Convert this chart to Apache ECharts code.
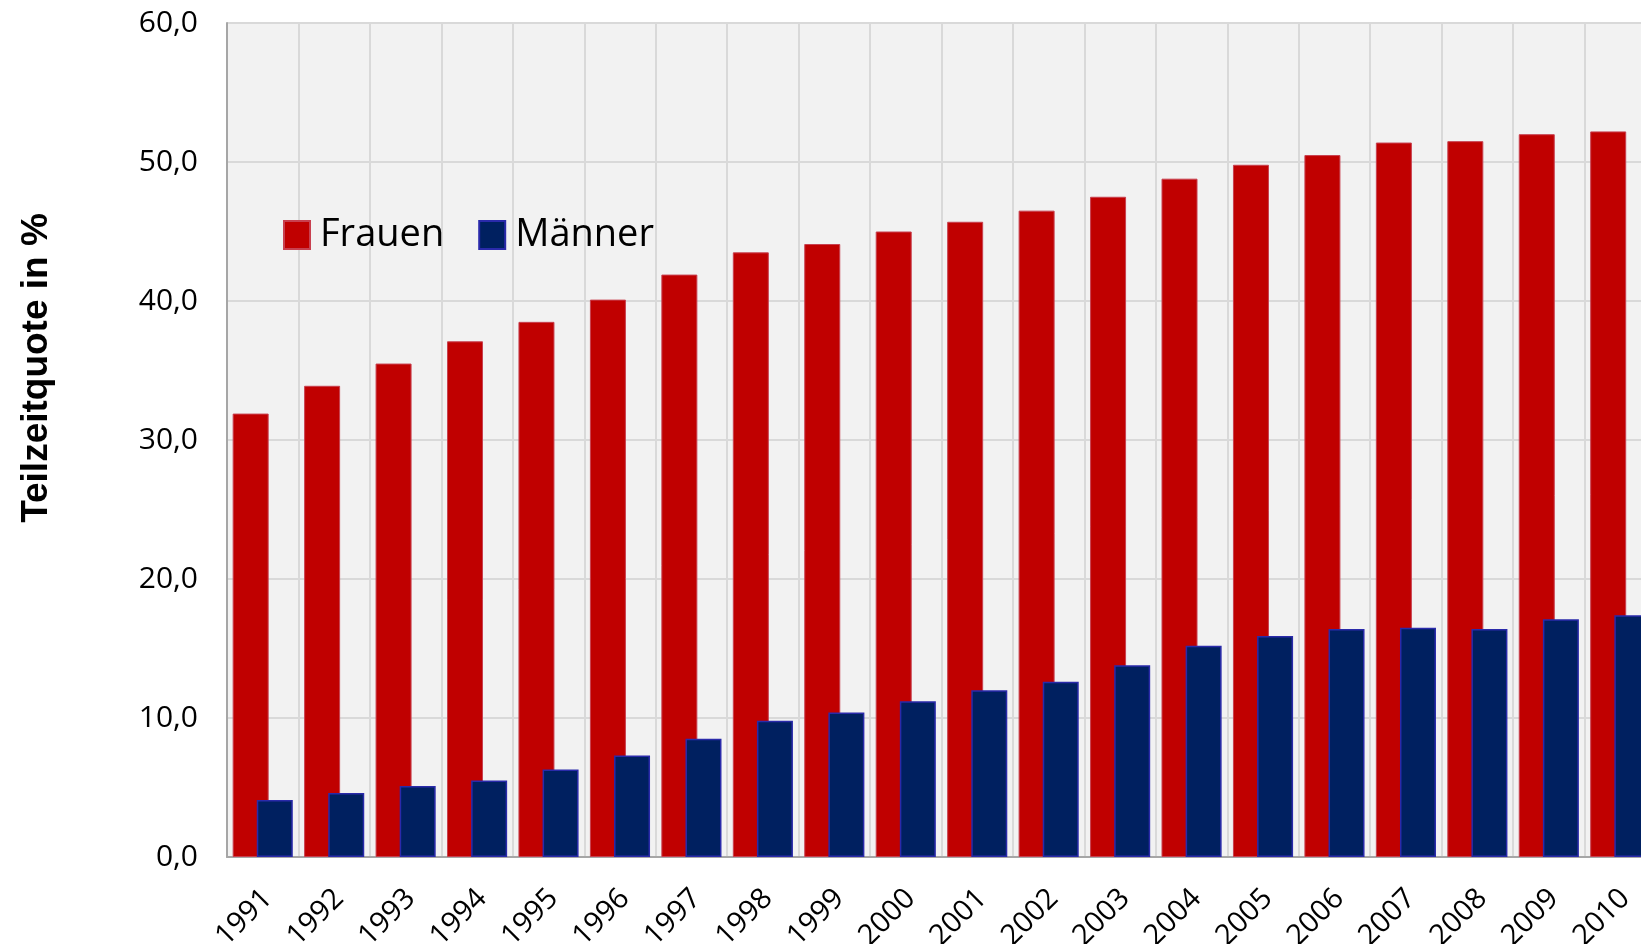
<!DOCTYPE html>
<html>
<head>
<meta charset="utf-8">
<script src="https://cdn.jsdelivr.net/npm/echarts@6/dist/echarts.min.js"></script>
<style>
  html, body { margin: 0; padding: 0; background: #fff; }
  #main { width: 1641px; height: 944px; }
</style>
</head>
<body>
<div id="main"></div>
<script>
// Jahre (Kategorien)
const years = ['1991', '1992', '1993', '1994', '1995', '1996', '1997', '1998', '1999', '2000',
               '2001', '2002', '2003', '2004', '2005', '2006', '2007', '2008', '2009', '2010'];
// Teilzeitquote Frauen in %
const frauen = [31.9, 33.9, 35.5, 37.1, 38.5, 40.1, 41.9, 43.5, 44.1, 45.0,
                45.7, 46.5, 47.5, 48.8, 49.8, 50.5, 51.4, 51.5, 52.0, 52.2];
// Teilzeitquote Männer in %
const maenner = [4.1, 4.6, 5.1, 5.5, 6.3, 7.3, 8.5, 9.8, 10.4, 11.2,
                 12.0, 12.6, 13.8, 15.2, 15.9, 16.4, 16.5, 16.4, 17.1, 17.4];

const font = '"Open Sans", sans-serif';

let myChart = echarts.init(document.getElementById('main'));
let options = {
    animation: false,
    backgroundColor: '#ffffff',
    grid: {
        left: 227,
        right: -15,
        top: 23,
        bottom: 87,
        show: true,
        backgroundColor: '#f2f2f2',
        borderWidth: 0,
        outerBoundsMode: 'none'
    },
    legend: {
        left: 278,
        top: 211,
        icon: 'rect',
        itemWidth: 26,
        itemHeight: 28,
        itemGap: 34,
        textStyle: {
            fontFamily: font,
            fontSize: 38,
            lineHeight: 38,
            color: '#000',
            padding: [0, 0, 0, 5]
        },
        data: ['Frauen', 'Männer']
    },
    xAxis: {
        type: 'category',
        data: years,
        axisLine: { lineStyle: { color: '#a6a6a6', width: 2 } },
        axisTick: { show: false },
        splitLine: { show: true, interval: 0, lineStyle: { color: '#d9d9d9', width: 2 } },
        axisLabel: {
            interval: 0,
            rotate: 45,
            margin: 32,
            verticalAlign: 'top',
            lineHeight: 14,
            fontFamily: font,
            fontSize: 29,
            color: '#000'
        }
    },
    yAxis: {
        type: 'value',
        min: 0,
        max: 60,
        interval: 10,
        name: 'Teilzeitquote in %',
        nameLocation: 'middle',
        nameRotate: 90,
        nameGap: 172,
        nameTextStyle: {
            fontFamily: '"Liberation Sans", Arial, sans-serif',
            fontWeight: 'bold',
            fontSize: 37,
            color: '#000',
            padding: [0, 0, 0, 144]
        },
        axisLine: { show: true, lineStyle: { color: '#a6a6a6', width: 2 } },
        axisTick: { show: false },
        splitLine: { lineStyle: { color: '#d9d9d9', width: 2 } },
        axisLabel: {
            margin: 29,
            fontFamily: font,
            fontSize: 30,
            color: '#000',
            formatter: v => v.toFixed(1).replace('.', ',')
        }
    },
    series: [{
        name: 'Frauen',
        type: 'bar',
        data: frauen,
        barWidth: 36,
        barGap: '-33%',
        itemStyle: { color: '#c00000', borderColor: '#c8404f', borderWidth: 1 }
    }, {
        name: 'Männer',
        type: 'bar',
        data: maenner,
        barWidth: 36,
        itemStyle: { color: '#002060', borderColor: '#2a2aaa', borderWidth: 1.5 }
    }]
};
myChart.setOption(options, true);
</script>
</body>
</html>
